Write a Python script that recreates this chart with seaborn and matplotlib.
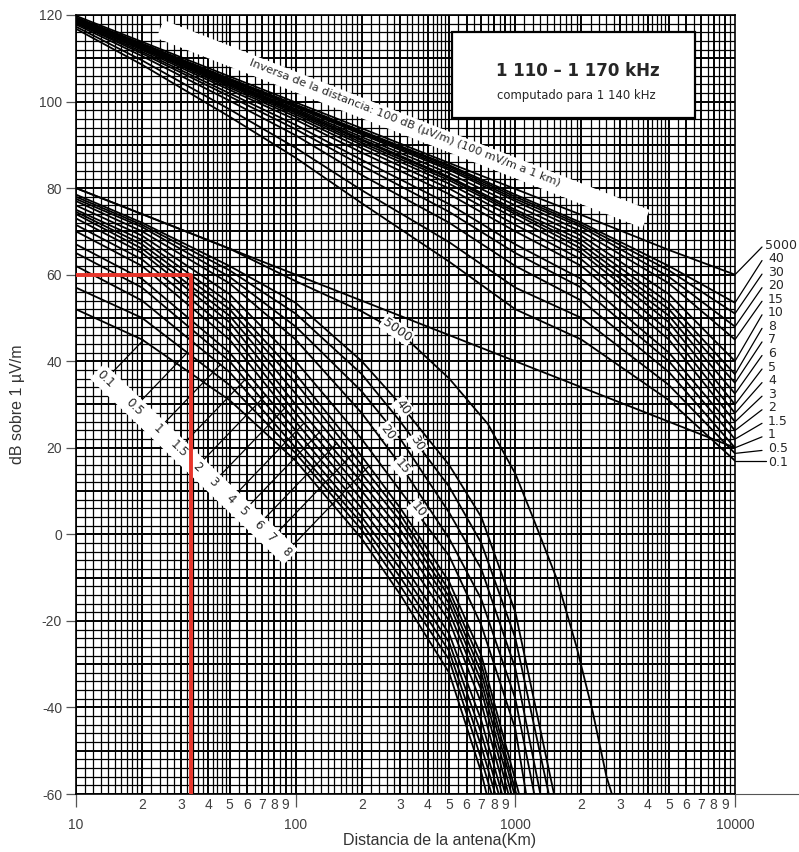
import numpy as np
import pandas as pd
import matplotlib
matplotlib.use("Agg")
import matplotlib.pyplot as plt
from matplotlib.lines import Line2D
from matplotlib.patches import Rectangle
import seaborn as sns

# ---------------- data ----------------
conductivities = ["0.1", "0.5", "1", "1.5", "2", "3", "4", "5", "6", "7", "8",
                  "10", "15", "20", "30", "40"]

# lower family (10 km .. where it leaves the chart at -60 dB)
lower_km = [10, 20, 50, 100, 200, 300, 500, 700]
lower_10km = [52, 57, 62, 65, 67, 70, 71.5, 73, 74, 74.5, 75, 76, 77, 77.5, 78, 78.5]
lower_20km = [45, 50, 54, 57, 59, 62, 63.5, 65, 66, 67, 68, 69, 70, 71, 71.5, 72]
lower_50km = [31, 34.5, 37.5, 40, 42, 45, 47, 49, 50.5, 52, 53.5, 55.5, 58, 59.5, 61, 62]
lower_100km = [17, 18.7, 20, 22, 24, 26, 28, 30, 32.5, 35, 37, 40, 45, 48, 51, 53.5]
lower_200km = [-1, 1, 2.5, 4, 6, 8, 10, 12, 14, 16, 18, 22, 28, 33, 37, 40]
lower_300km = [-14, -12, -10, -8, -6, -3.5, -1, 1, 3, 4.5, 6, 10, 16, 22, 26, 30]
lower_500km = [-32, -29, -27, -25, -23, -20, -18, -16, -14.5, -13, -11, -5, -1, 5, 11, 16]
lower_700km = [-55, -52, -49, -46, -43, -39, -36, -34, -32, -30, -28, -21, -15, -8, -2, 4]
lower_1000km = [np.nan] * 11 + [-45, -38, -31, -24, -18]
lower_end_km = [740, 780, 810, 840, 870, 900, 930, 960, 990, 1010, 1040,
                1120, 1220, 1300, 1420, 1500]

# sea water (5000 mS/m) lower curve
sea_km = [10, 20, 50, 100, 200, 300, 500, 750, 1000, 1200, 1550, 1900, 2250, 2600, 2750]
sea_db = [80, 74, 66, 58.5, 51.5, 46.5, 36, 25.5, 14, 4, -10.5, -26, -41, -56, -60]

# upper family (same conductivities + 5000)
upper_labels = conductivities + ["5000"]
upper_km = [10, 20, 50, 100, 200, 500, 1000, 2000, 5000, 10000]
upper_10 = [116.8, 117.3, 117.8, 118.1, 118.3, 118.5, 118.7, 118.8, 118.9, 119.0, 119.0,
            119.1, 119.2, 119.3, 119.4, 119.4, 119.8]
upper_20 = [108.5, 109.5, 110.5, 111.1, 111.5, 111.9, 112.2, 112.4, 112.6, 112.7, 112.8,
            112.9, 113.1, 113.2, 113.3, 113.4, 113.8]
upper_50 = [96.5, 98.2, 100.2, 101.2, 101.9, 102.7, 103.2, 103.6, 103.9, 104.1, 104.3,
            104.5, 104.8, 105.0, 105.2, 105.3, 105.8]
upper_100 = [87, 89.3, 92.2, 93.6, 94.6, 95.8, 96.5, 97.0, 97.4, 97.7, 98.0,
             98.3, 98.7, 99.0, 99.2, 99.3, 99.8]
upper_200 = [76.5, 79.5, 83.0, 85.2, 86.5, 88.2, 89.2, 90.0, 90.5, 91.0, 91.3,
             91.8, 92.4, 92.7, 93.0, 93.2, 93.8]
upper_500 = [63, 67.5, 72, 74.5, 76.3, 78.6, 79.9, 81, 81.8, 82.3, 82.6,
             83.4, 84.2, 84.6, 85, 85.3, 85.8]
upper_1000 = [52, 57, 62, 65, 67, 70, 71.5, 73, 74, 74.5, 75, 76, 77, 77.5, 78, 78.5, 79.8]
upper_2000 = [45, 50, 54, 57, 59, 62, 63.5, 65, 66, 67, 68, 69, 70, 71, 71.5, 72, 73.8]
upper_5000 = [31, 34.5, 37.5, 40, 42, 45, 47, 49, 50.5, 52, 53.5, 55.5, 58, 59.5, 61, 62, 65.7]
upper_10000 = [17, 18.7, 20, 22, 24, 26, 28, 30, 32.5, 35, 37, 40, 45, 48, 51, 53.5, 60]

# inverse-distance reference (lower family)
inverse_km = [10, 10000]
inverse_db = [80, 20]

# red reading lines
red_km = [10, 33.5, 33.5]
red_db = [60, 60, -60]

# labels
lower_left_labels = ["0.1", "0.5", "1", "1.5", "2", "3", "4", "5", "6", "7", "8"]
curve_labels = ["5000", "40", "30", "20", "15", "10"]
y_ticks = [-60, -40, -20, 0, 20, 40, 60, 80, 100, 120]

# ---------------- build long table ----------------
rows = []
lower_cols = [lower_10km, lower_20km, lower_50km, lower_100km, lower_200km,
              lower_300km, lower_500km, lower_700km]
for i, s in enumerate(conductivities):
    for k, col in zip(lower_km, lower_cols):
        rows.append(("L" + s, k, col[i]))
    if np.isfinite(lower_1000km[i]):
        rows.append(("L" + s, 1000, lower_1000km[i]))
    rows.append(("L" + s, lower_end_km[i], -60))
for k, v in zip(sea_km, sea_db):
    rows.append(("L5000", k, v))
upper_cols = [upper_10, upper_20, upper_50, upper_100, upper_200, upper_500,
              upper_1000, upper_2000, upper_5000, upper_10000]
for i, s in enumerate(upper_labels):
    for k, col in zip(upper_km, upper_cols):
        rows.append(("U" + s, k, col[i]))
for k, v in zip(inverse_km, inverse_db):
    rows.append(("ID", k, v))
df = pd.DataFrame(rows, columns=["curve", "km", "db"])

# ---------------- figure ----------------
sns.set_theme(style="white")
plt.rcParams["font.family"] = ["Liberation Sans", "DejaVu Sans"]

W, H = 799, 852
fig = plt.figure(figsize=(W / 100, H / 100), dpi=100)
L_px, R_px, T_px, B_px = 76, 735, 15, 794
ax = fig.add_axes([L_px / W, 1 - B_px / H, (R_px - L_px) / W, (B_px - T_px) / H])
ax.set_xscale("log")
ax.set_xlim(10, 10000)
ax.set_ylim(-60, 120)

# log-paper grid
mant = np.r_[np.arange(1.0, 2.0, 0.1), np.arange(2.0, 5.0, 0.2), np.arange(5.0, 10.0, 0.5)]
for e in (1, 2, 3):
    for m in mant:
        major = abs(m - round(m)) < 1e-6
        ax.axvline(m * 10 ** e, color="black", lw=1.4 if major else 0.9, zorder=1)
for yv in range(-60, 121, 2):
    ax.axhline(yv, color="black", lw=1.4 if yv % 10 == 0 else 0.9, zorder=1)

sns.lineplot(data=df, x="km", y="db", units="curve", estimator=None, sort=False,
             color="black", lw=1.3, ax=ax, zorder=3)

# red reading lines
ax.plot(red_km, red_db, color="#e8352b", lw=2.8, zorder=7, solid_capstyle="butt")

# ---------------- upper white band with inverse-distance text ----------------
to_disp = ax.transData.transform
to_data = ax.transData.inverted().transform
def px2data(x, y):
    return to_data((x, H - y))

b0 = px2data(160, 29)
b1 = px2data(646, 219)
ax.plot([b0[0], b1[0]], [b0[1], b1[1]], color="white", lw=14, solid_capstyle="butt", zorder=5)
ang = np.degrees(np.arctan2(-(219 - 29), 646 - 160))
tc = px2data(405, 123)
ax.text(tc[0], tc[1], "Inversa de la distancia: 100 dB (\u00b5V/m) (100 mV/m a 1 km)",
        rotation=ang, rotation_mode="anchor", ha="center", va="center", fontsize=8.2,
        family=["DejaVu Sans"], zorder=6)

# ---------------- title box ----------------
ax.add_patch(Rectangle(((452 - L_px) / (R_px - L_px), 1 - (118 - T_px) / (B_px - T_px)),
                       (695 - 452) / (R_px - L_px), (118 - 32) / (B_px - T_px),
                       transform=ax.transAxes, fc="white", ec="black", lw=1.6, zorder=8))
fig.text(578 / W, 1 - 71 / H, "1 110 \u2013 1 170 kHz", ha="center", va="center",
         fontsize=12, fontweight="bold", family=["DejaVu Sans"], zorder=9)
fig.text(576 / W, 1 - 96 / H, "computado para 1 140 kHz", ha="center", va="center",
         fontsize=8.4, family=["DejaVu Sans"], zorder=9)

# ---------------- lower-left band with leader lines ----------------
p0 = np.array([97.0, H - 371.0])
p1 = np.array([291.0, H - 557.0])
d0, d1 = to_data(p0), to_data(p1)
ax.plot([d0[0], d1[0]], [d0[1], d1[1]], color="white", lw=15, solid_capstyle="butt", zorder=5)
u = (p1 - p0) / np.linalg.norm(p1 - p0)
n = np.array([-u[1], u[0]])
if n[0] < 0:
    n = -n
band_ang = np.degrees(np.arctan2(u[1], u[0]))
fracs = [0.045, 0.195, 0.315, 0.42, 0.515, 0.6, 0.69, 0.755, 0.83, 0.9, 0.975]
for lab, t in zip(lower_left_labels, fracs):
    c = p0 + t * (p1 - p0)
    cd = to_data(c)
    ax.text(cd[0], cd[1], lab, rotation=band_ang, rotation_mode="anchor",
            ha="center", va="center", fontsize=8.6, family=["DejaVu Sans"], zorder=6)
    sub = df[df.curve == "L" + lab]
    P = to_disp(np.column_stack([sub.km.values, sub.db.values]))
    order = np.argsort(P[:, 0])
    P = P[order]
    start = c + n * 9
    end = None
    for s in np.arange(0, 260, 0.5):
        q = start + n * s
        cy = np.interp(q[0], P[:, 0], P[:, 1])
        if q[1] >= cy:
            end = q
            break
    if end is not None:
        sd, ed = to_data(start), to_data(end)
        ax.plot([sd[0], ed[0]], [sd[1], ed[1]], color="black", lw=0.9, zorder=4)

# ---------------- labels sitting on lower curves ----------------
curve_label_px = [(397, 330, -35), (403, 407, -53), (417, 443, -59),
                  (388, 432, -53), (402, 467, -50), (418, 510, -50)]
for lab, (xp, yp, rot) in zip(curve_labels, curve_label_px):
    dd = px2data(xp, yp)
    ax.text(dd[0], dd[1], lab, rotation=rot, rotation_mode="anchor", ha="center",
            va="center", fontsize=9, family=["DejaVu Sans"], zorder=6,
            bbox=dict(boxstyle="round,pad=0.12", fc="white", ec="none"))

# ---------------- right-side labels with leader lines ----------------
n_lab = len(upper_labels)
for j, lab in enumerate(reversed(upper_labels)):
    i = n_lab - 1 - j
    ylab_px = 245 + j * (462 - 245) / (n_lab - 1)
    endpoint = to_disp((10000, upper_10000[i]))
    tip = np.array([762.0, H - ylab_px - 2])
    if lab == "0.1":
        tip = np.array([766.0, endpoint[1]])
    a, b = to_data(endpoint), to_data(tip)
    ax.plot([a[0], b[0]], [a[1], b[1]], color="black", lw=0.9, clip_on=False, zorder=4)
    tx = to_data((768 if lab != "5000" else 765, H - ylab_px))
    ax.text(tx[0], tx[1], lab, ha="left", va="center", fontsize=9,
            family=["DejaVu Sans"], clip_on=False)

# ---------------- axes cosmetics ----------------
for sp in ax.spines.values():
    sp.set_color("black")
    sp.set_linewidth(1.2)
ax.set_yticks(y_ticks)
ax.set_yticklabels([str(v) for v in y_ticks])
ax.tick_params(axis="y", which="major", direction="out", length=7, width=0.9,
               color="#555555", labelsize=10, labelcolor="#404040", pad=3, left=True)
major_x = [10, 100, 1000, 10000]
ax.set_xticks(major_x)
ax.set_xticklabels([str(v) for v in major_x])
minor_x = [m * 10 ** e for e in (1, 2, 3) for m in range(2, 10)]
ax.set_xticks(minor_x, minor=True)
ax.set_xticklabels([str(int(round(v / 10 ** np.floor(np.log10(v))))) for v in minor_x], minor=True)
ax.tick_params(axis="x", which="major", direction="out", length=9, width=0.9,
               color="#555555", labelsize=10, labelcolor="#404040", pad=8, bottom=True)
ax.tick_params(axis="x", which="minor", direction="out", length=0,
               labelsize=10, labelcolor="#404040", pad=3, bottom=True)
ax.set_xlabel("")
ax.set_ylabel("dB sobre 1 \u00b5V/m", fontsize=11.5, color="#333333", labelpad=10)
fig.text(440 / W, 1 - 840 / H, "Distancia de la antena(Km)", ha="center", va="center",
         fontsize=11.5, color="#333333")
fig.add_artist(Line2D([R_px / W, 1.0], [1 - B_px / H, 1 - B_px / H], color="#555555", lw=0.8))

fig.savefig("out.png", dpi=100, facecolor="white")
